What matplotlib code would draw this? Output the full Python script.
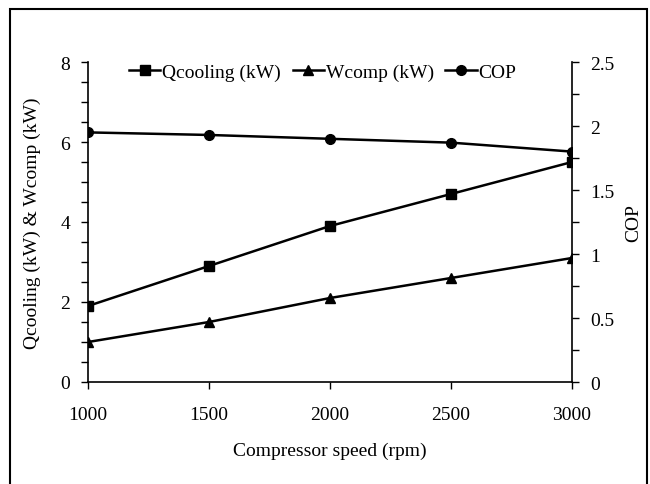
import matplotlib
matplotlib.use("Agg")
import matplotlib.pyplot as plt
from matplotlib.patches import Rectangle
from matplotlib.ticker import MultipleLocator, FormatStrFormatter

speed = [1000, 1500, 2000, 2500, 3000]
qcooling = [1.9, 2.9, 3.9, 4.7, 5.5]
wcomp = [1.0, 1.5, 2.1, 2.6, 3.1]
cop = [1.95, 1.93, 1.90, 1.87, 1.80]

plt.rcParams['font.family'] = ['Liberation Serif', 'DejaVu Serif']
FS = 14

fig = plt.figure(figsize=(6.5, 4.85), dpi=100)
ax = fig.add_axes([88/650, 1-383/485, (572-88)/650, (383-63)/485])
ax2 = ax.twinx()

lw = 1.8
l1, = ax.plot(speed, qcooling, color='black', lw=lw, marker='s', ms=7, label='Qcooling (kW)')
l2, = ax.plot(speed, wcomp, color='black', lw=lw, marker='^', ms=7, label='Wcomp (kW)')
l3, = ax2.plot(speed, cop, color='black', lw=lw, marker='o', ms=7, label='COP')

ax.set_xlim(1000, 3000)
ax.set_ylim(0, 8)
ax2.set_ylim(0, 2.5)
ax.set_xticks([1000, 1500, 2000, 2500, 3000])
ax.yaxis.set_major_locator(MultipleLocator(2))
ax.yaxis.set_minor_locator(MultipleLocator(0.5))
ax2.yaxis.set_major_locator(MultipleLocator(0.5))
ax2.yaxis.set_minor_locator(MultipleLocator(0.25))
ax2.yaxis.set_major_formatter(FormatStrFormatter('%g'))

for a in (ax, ax2):
    a.spines['top'].set_visible(False)
    a.tick_params(which='both', direction='out', color='black', width=1)
    a.tick_params(which='major', length=5, labelsize=FS, pad=8)
    a.tick_params(which='minor', length=5)
ax.spines['right'].set_visible(False)
ax2.spines['left'].set_visible(False)
ax2.spines['bottom'].set_visible(False)
for sp in list(ax.spines.values()) + list(ax2.spines.values()):
    sp.set_linewidth(1.2)
ax.tick_params(axis='x', pad=12)

ax.set_xlabel('Compressor speed (rpm)', fontsize=FS, labelpad=14)
ax.set_ylabel('Qcooling (kW) & Wcomp (kW)', fontsize=FS, labelpad=14)
ax2.set_ylabel('COP', fontsize=FS, labelpad=8)

ax.legend(handles=[l1, l2, l3], loc='upper center', bbox_to_anchor=(0.485, 1.05), ncol=3,
          frameon=False, fontsize=FS, handlelength=1.6, handletextpad=0.1, columnspacing=0.6)

fig.patches.append(Rectangle((10/650, -0.05), (647-10)/650, 1-10/485+0.05,
                             transform=fig.transFigure, fill=False, edgecolor='black', lw=1.5))

fig.savefig('out.png', dpi=100)
